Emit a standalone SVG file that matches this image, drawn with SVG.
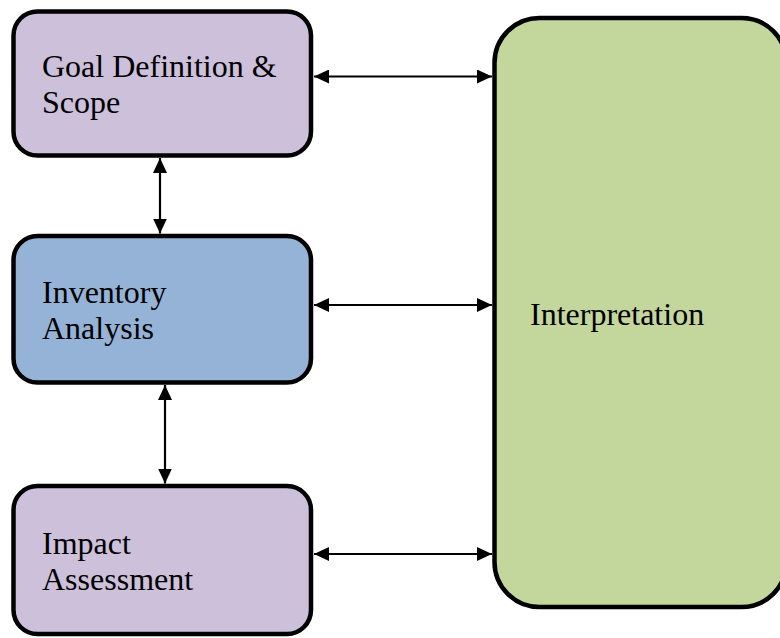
<svg xmlns="http://www.w3.org/2000/svg" width="780" height="638" viewBox="0 0 780 638">
  <style>
    .box { stroke: #000; stroke-width: 4.5; }
    .purple { fill: #CCC0DA; }
    .blue { fill: #95B3D7; }
    .green { fill: #C3D69B; }
    .label { font-family: "Liberation Serif", "Times New Roman", serif; font-size: 32px; fill: #000; }
    .link { stroke: #000; stroke-width: 2.2; fill: none; marker-start: url(#head); marker-end: url(#head); }
  </style>
  <defs>
    <marker id="head" viewBox="0 0 15 14" refX="15" refY="7" markerWidth="15" markerHeight="14" markerUnits="userSpaceOnUse" orient="auto-start-reverse">
      <path d="M0,0 L15,7 L0,14 Z" fill="#000"/>
    </marker>
  </defs>

  <g id="goal">
    <rect class="box purple" x="13.5" y="11.5" width="297.5" height="144" rx="24" ry="24"/>
    <text class="label" x="42" y="77">Goal Definition &amp;</text>
    <text class="label" x="42" y="113">Scope</text>
  </g>

  <g id="inventory">
    <rect class="box blue" x="13.5" y="236" width="297.5" height="146.5" rx="24" ry="24"/>
    <text class="label" x="42" y="303">Inventory</text>
    <text class="label" x="42" y="339">Analysis</text>
  </g>

  <g id="impact">
    <rect class="box purple" x="13.5" y="486" width="297.5" height="148" rx="24" ry="24"/>
    <text class="label" x="42" y="554">Impact</text>
    <text class="label" x="42" y="590">Assessment</text>
  </g>

  <g id="interpretation">
    <rect class="box green" x="494.5" y="18" width="292" height="589" rx="45" ry="45"/>
    <text class="label" x="530" y="325">Interpretation</text>
  </g>

  <g id="connectors">
    <line class="link" x1="314" y1="76.5" x2="492" y2="76.5"/>
    <line class="link" x1="314" y1="305" x2="492" y2="305"/>
    <line class="link" x1="314" y1="554" x2="492" y2="554"/>
    <line class="link" x1="160" y1="158" x2="160" y2="233.5"/>
    <line class="link" x1="165" y1="385" x2="165" y2="483.5"/>
  </g>
</svg>
